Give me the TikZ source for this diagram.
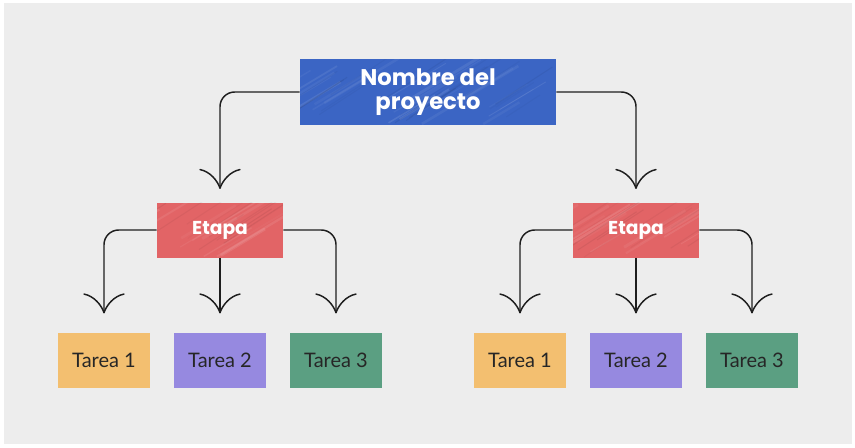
\documentclass[tikz,border=0pt]{standalone}
\usepackage{fontspec}
\setmainfont{Lato}
\newfontfamily\headfont{Poppins}
\usepackage{tikz}
\usetikzlibrary{arrows.meta}
\usepackage{xcolor}
\definecolor{background}{HTML}{EDEDED}
\definecolor{proyectoblue}{HTML}{3B65C4}
\definecolor{etapared}{HTML}{E26466}
\definecolor{tareaorange}{HTML}{F3BF70}
\definecolor{tareapurple}{HTML}{9689E0}
\definecolor{tareagreen}{HTML}{5B9F82}
\definecolor{linegray}{HTML}{1E1E1E}

% open tip with flaring arms
\pgfdeclarearrow{
  name = Sprout,
  parameters = {\the\pgfarrowlength,\the\pgfarrowwidth},
  setup code = {
    \pgfarrowssettipend{0pt}
    \pgfarrowssetlineend{-.5\pgflinewidth}
    \pgfarrowssetbackend{-\pgfarrowlength}
    \pgfarrowssavethe\pgfarrowlength
    \pgfarrowssavethe\pgfarrowwidth
  },
  drawing code = {
    \pgfsetdash{}{0pt}
    \pgfsetroundcap
    \pgfsetroundjoin
    \pgfpathmoveto{\pgfqpoint{-\pgfarrowlength}{.5\pgfarrowwidth}}
    \pgfpathcurveto{\pgfqpoint{-.9\pgfarrowlength}{.25\pgfarrowwidth}}{\pgfqpoint{-.4\pgfarrowlength}{.06\pgfarrowwidth}}{\pgfpointorigin}
    \pgfpathcurveto{\pgfqpoint{-.4\pgfarrowlength}{-.06\pgfarrowwidth}}{\pgfqpoint{-.9\pgfarrowlength}{-.25\pgfarrowwidth}}{\pgfqpoint{-\pgfarrowlength}{-.5\pgfarrowwidth}}
    \pgfusepathqstroke
  },
  defaults = {length = 14pt, width = 30pt}
}

\tikzset{
  brush/.style={path picture={
    \pgfmathsetseed{#1}
    \foreach \k in {0,...,22}{
      \pgfmathsetmacro\off{rnd*230-60}
      \pgfmathsetmacro\len{rnd*50+25}
      \pgfmathsetmacro\op{rnd*.08+.03}
      \pgfmathsetmacro\wd{rnd*2+.6}
      \draw[white,opacity=\op,line width=\wd pt]
        ([xshift=\off pt,yshift=rnd*20pt]path picture bounding box.south west) -- ++(\len pt,.6*\len pt);
      \draw[black,opacity=\op*.6,line width=.8pt]
        ([xshift=\off pt+5pt,yshift=rnd*25pt]path picture bounding box.south west) -- ++(\len pt,.65*\len pt);}
  }},
  topbox/.style={rectangle,inner sep=0pt,align=center,fill=proyectoblue,brush=11,
    minimum width=192pt,minimum height=49.5pt,text=white,
    font=\headfont\bfseries\fontsize{17}{18.5}\selectfont},
  stagebox/.style={rectangle,inner sep=0pt,fill=etapared,brush=#1,
    minimum width=94.5pt,minimum height=41.25pt,text=white,
    font=\headfont\bfseries\fontsize{14}{16}\selectfont},
  taskbox/.style={rectangle,inner sep=0pt,
    minimum width=69pt,minimum height=41.25pt,text=black!85,
    font=\fontsize{15}{17}\selectfont},
  conn/.style={draw=linegray,line width=1.1pt,rounded corners=11pt,-{Sprout}}
}

\begin{document}
\begin{tikzpicture}[x=0.75pt,y=-0.75pt]
%background
\useasboundingbox (0,0) rectangle (855,447);
\fill[white] (0,0) rectangle (855,447);
\fill[background] (4,3) rectangle (852,444);

%project
\node[topbox] (proyecto) at (428,92) {Nombre del\\proyecto};

%stages and tasks
\foreach \g/\cx/\s in {A/220/3,B/636/5}{
  \node[stagebox=\s] (etapa\g) at (\cx,230) {Etapa};
  \foreach \n/\dx/\col in {1/-116/tareaorange,2/0/tareapurple,3/116/tareagreen}
    \node[taskbox,fill=\col] (tarea\g\n) at (\cx+\dx,360.5) {Tarea \n};
  \draw[conn,shorten >=15pt] (etapa\g.west) -| (tarea\g1.north);
  \draw[conn,shorten >=15pt] (etapa\g.south) -- (tarea\g2.north);
  \draw[conn,shorten >=15pt] (etapa\g.east) -| (tarea\g3.north);
}

%project to stages
\draw[conn,shorten >=10.5pt] (proyecto.west) -| (etapaA.north);
\draw[conn,shorten >=10.5pt] (proyecto.east) -| (etapaB.north);
\end{tikzpicture}
\end{document}
